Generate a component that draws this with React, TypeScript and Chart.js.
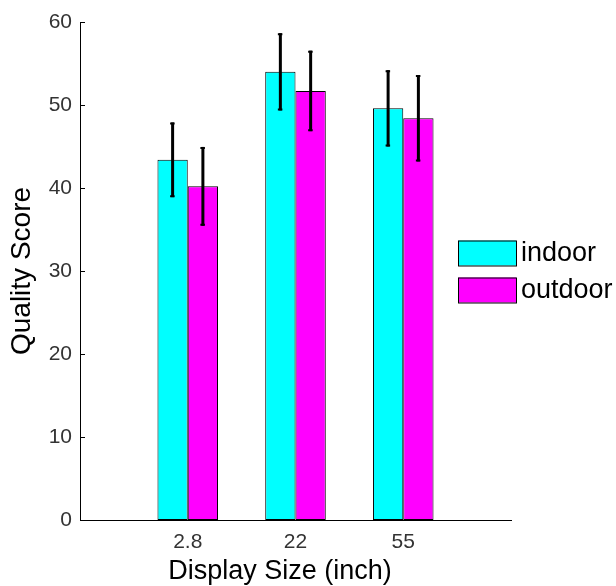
import React, { useEffect, useRef } from "react";
import { Chart, registerables } from "chart.js";

Chart.register(...registerables);

// Display sizes (inch) and mean quality scores with their error half-widths
const sizes = ["2.8", "22", "55"];
const indoor = [43.4, 54.0, 49.6];
const indoorErr = [4.5, 4.65, 4.6];
const outdoor = [40.2, 51.7, 48.4];
const outdoorErr = [4.75, 4.85, 5.2];
const yTicks = [0, 10, 20, 30, 40, 50, 60];

const seriesNames = ["indoor", "outdoor"];
const seriesColors = ["#00FFFF", "#FF00FF"];

const FONT = "'Liberation Sans', Arial, Helvetica, sans-serif";

// Pad the category axis with empty slots on both sides so the groups sit at 1..3 of 0..4
const xLabels = ["", ...sizes, ""];
const padded = (arr: number[]) => [null, ...arr, null];

const errorBars = {
  id: "errorBars",
  afterDatasetsDraw(chart: any) {
    const { ctx } = chart;
    const yScale = chart.scales.y;
    const errs = [indoorErr, outdoorErr];
    ctx.save();
    ctx.strokeStyle = "#000";
    chart.data.datasets.forEach((ds: any, di: number) => {
      const meta = chart.getDatasetMeta(di);
      meta.data.forEach((bar: any, i: number) => {
        const v = ds.data[i];
        if (v == null) return;
        const e = errs[di][i - 1];
        const x = bar.x;
        const yTop = yScale.getPixelForValue(v + e);
        const yBot = yScale.getPixelForValue(v - e);
        ctx.lineWidth = 3;
        ctx.beginPath();
        ctx.moveTo(x, yTop);
        ctx.lineTo(x, yBot);
        ctx.stroke();
        ctx.lineWidth = 2;
        ctx.beginPath();
        ctx.moveTo(x - 2.5, yTop + 1);
        ctx.lineTo(x + 2, yTop + 1);
        ctx.moveTo(x - 2.5, yBot - 1);
        ctx.lineTo(x + 2, yBot - 1);
        ctx.stroke();
      });
    });
    ctx.restore();
  },
};

const decorations = {
  id: "decorations",
  afterDraw(chart: any) {
    const { ctx, chartArea } = chart;
    const yScale = chart.scales.y;
    ctx.save();
    // inward tick marks on the value axis
    ctx.strokeStyle = "#000";
    ctx.lineWidth = 1;
    yTicks.forEach((t) => {
      const y = Math.round(yScale.getPixelForValue(t)) + 0.5;
      ctx.beginPath();
      ctx.moveTo(chartArea.left, y);
      ctx.lineTo(chartArea.left + 5, y);
      ctx.stroke();
    });

    // axis titles
    ctx.fillStyle = "#000";
    ctx.font = `27px ${FONT}`;
    ctx.textAlign = "center";
    ctx.textBaseline = "middle";
    ctx.fillText("Display Size (inch)", 280, 572);
    ctx.save();
    ctx.translate(22, (chartArea.top + chartArea.bottom) / 2);
    ctx.rotate(-Math.PI / 2);
    ctx.font = `28px ${FONT}`;
    ctx.fillText("Quality Score", 0, 0);
    ctx.restore();

    // legend
    const boxX = 458;
    const boxW = 58;
    const rows = [253, 290];
    ctx.textAlign = "left";
    seriesNames.forEach((name, i) => {
      const cy = rows[i];
      ctx.fillStyle = seriesColors[i];
      ctx.fillRect(boxX, cy - 12.5, boxW, 25);
      ctx.strokeStyle = "#000";
      ctx.lineWidth = 1;
      ctx.strokeRect(boxX + 0.5, cy - 12.5 + 0.5, boxW, 25);
      ctx.fillStyle = "#000";
      ctx.font = `27px ${FONT}`;
      ctx.fillText(name, 521, cy + 1);
    });
    ctx.restore();
  },
};

export default function App() {
  const canvasRef = useRef<HTMLCanvasElement | null>(null);

  useEffect(() => {
    const canvas = canvasRef.current;
    if (!canvas) return;
    const chart = new Chart(canvas, {
      type: "bar",
      data: {
        labels: xLabels,
        datasets: [
          {
            label: seriesNames[0],
            data: padded(indoor),
            backgroundColor: seriesColors[0],
            borderColor: "#000",
            borderWidth: 1,
            borderSkipped: false,
          },
          {
            label: seriesNames[1],
            data: padded(outdoor),
            backgroundColor: seriesColors[1],
            borderColor: "#000",
            borderWidth: 1,
            borderSkipped: false,
          },
        ],
      },
      options: {
        responsive: false,
        animation: false,
        devicePixelRatio: 1,
        datasets: {
          bar: { categoryPercentage: 0.562, barPercentage: 1 },
        },
        layout: { padding: { left: 0, top: 22, right: 105, bottom: 0 } },
        plugins: {
          legend: { display: false },
          tooltip: { enabled: false },
          title: { display: false },
        },
        scales: {
          x: {
            type: "category",
            offset: false,
            grid: { display: false, drawTicks: false },
            border: { display: true, color: "#000", width: 1 },
            ticks: {
              autoSkip: false,
              maxRotation: 0,
              minRotation: 0,
              padding: 10,
              color: "#333",
              font: { family: FONT, size: 21 },
            },
            afterFit(scale: any) {
              scale.height = 66;
            },
          },
          y: {
            min: 0,
            max: 60,
            grid: { display: false, drawTicks: false },
            border: { display: true, color: "#000", width: 1 },
            ticks: {
              stepSize: 10,
              padding: 8,
              color: "#333",
              font: { family: FONT, size: 21 },
            },
            afterFit(scale: any) {
              scale.width = 80;
            },
          },
        },
      },
      plugins: [errorBars, decorations],
    });
    return () => chart.destroy();
  }, []);

  return (
    <div style={{ position: "absolute", left: 0, top: 0, width: 616, height: 586, background: "#fff" }}>
      <canvas ref={canvasRef} width={616} height={586} />
    </div>
  );
}
